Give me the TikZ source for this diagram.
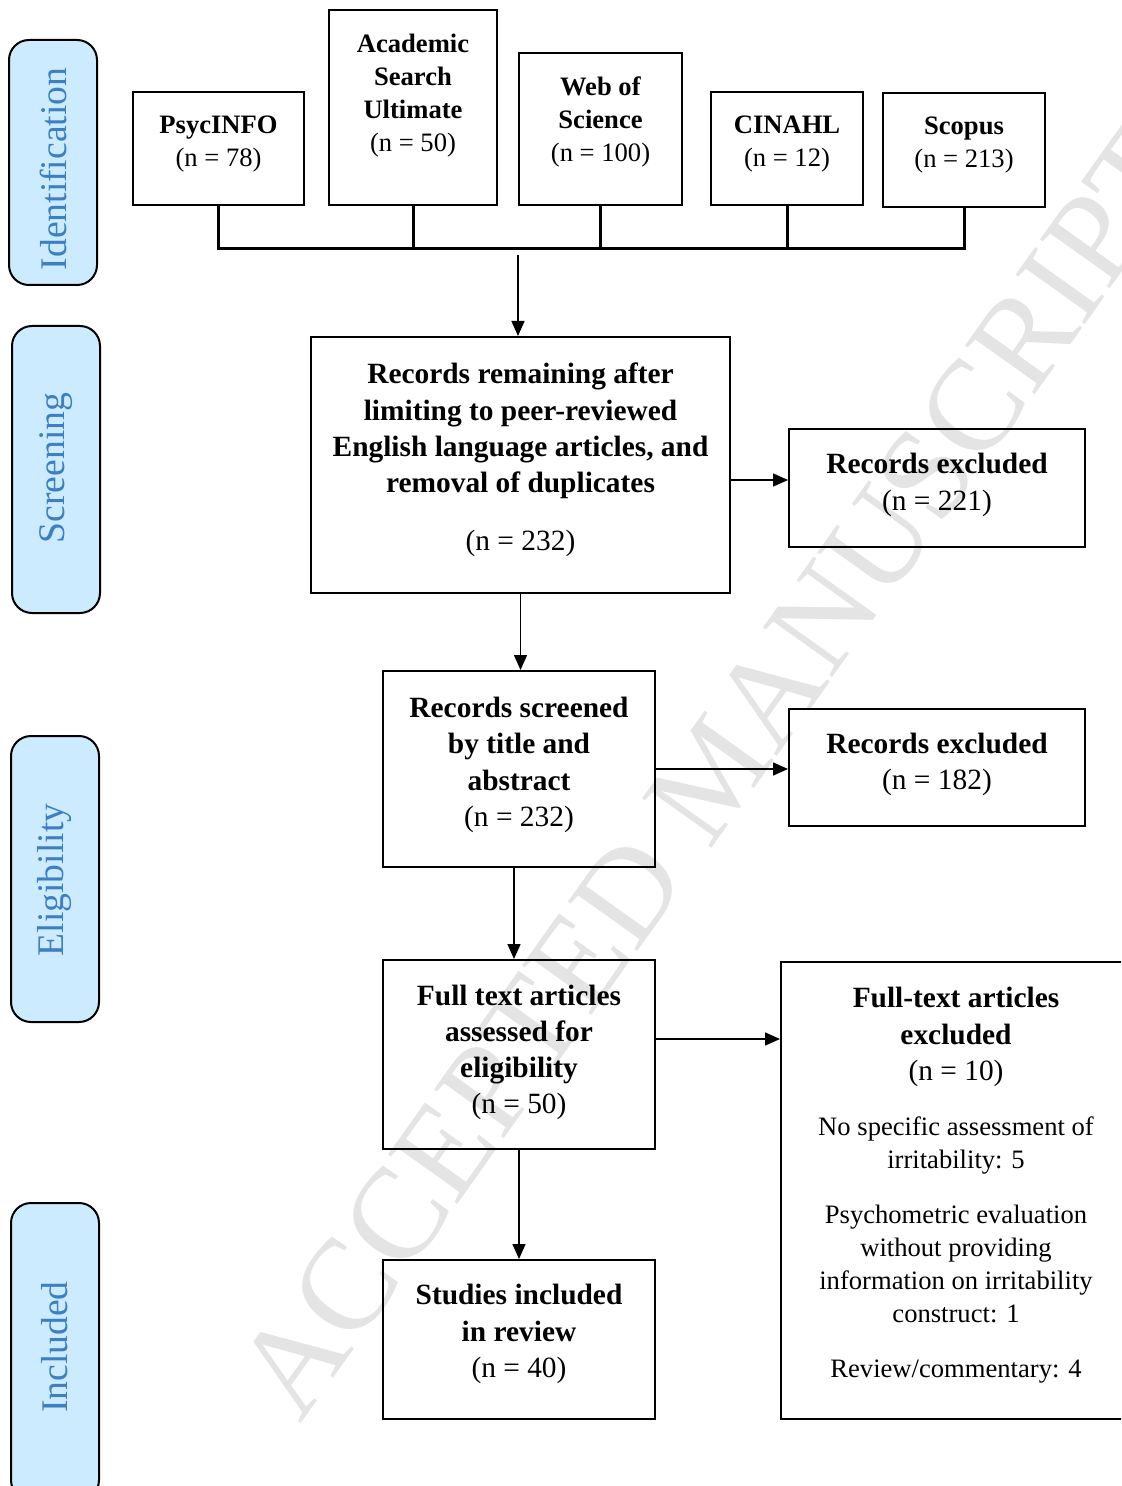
\documentclass[tikz,border=0pt]{standalone}
\usepackage{fontspec}
\setmainfont{Liberation Serif}
\usetikzlibrary{arrows.meta}
\definecolor{phasefill}{HTML}{CCEBFF}
\definecolor{phasetext}{HTML}{3C7FC2}
\definecolor{wmark}{HTML}{E4E4E4}
\begin{document}
\begin{tikzpicture}[x=0.5pt,y=-0.5pt,
  frame/.style={draw=black, line width=1pt, inner sep=0pt},
  txt/.style={align=center, inner sep=0pt, font=\fontsize{14.7}{18.1}\selectfont},
  srctxt/.style={align=center, inner sep=0pt, font=\fontsize{13.3}{16.5}\selectfont},
  detailtxt/.style={align=center, inner sep=0pt, font=\fontsize{13.3}{16.5}\selectfont},
  phase/.style={draw=black, line width=1pt, fill=phasefill, rounded corners=10pt, minimum width=44pt, inner sep=0pt},
  phasetxt/.style={rotate=90, text=phasetext, font=\fontsize{18.8}{20}\selectfont, inner sep=0pt},
  bus/.style={line width=1.5pt},
  arr/.style={line width=0.75pt, -{Triangle[length=7.5pt,width=6.5pt]}}
]
\useasboundingbox (0,0) rectangle (1121,1486);
\clip (0,0) rectangle (1121,1486);

% watermark
\node[rotate=54.5, anchor=base west, text=wmark, font=\fontsize{65}{65}\selectfont, inner sep=0pt] (wm) at (300,1425) {ACCEPTED MANUSCRIPT};

% phase labels
\node[phase, minimum height=122.5pt] (pid) at (53,162.5) {};
\node[phasetxt] (pidt) at (53,169) {Identification};
\node[phase, minimum height=143.5pt] (pscr) at (56,469.5) {};
\node[phasetxt] (pscrt) at (56,468) {Screening};
\node[phase, minimum height=143pt] (pel) at (55,879) {};
\node[phasetxt] (pelt) at (55,880) {Eligibility};
\node[phase, minimum height=148.5pt] (pin) at (55,1351.5) {};
\node[phasetxt] (pint) at (55,1347) {Included};

% sources
\node[frame, minimum width=85.5pt, minimum height=56.5pt] (psyc) at (218.5,148.5) {};
\node[srctxt] (psyct) at (218.5,144.5) {\textbf{PsycINFO}\\(n = 78)};
\node[frame, minimum width=84pt, minimum height=97.5pt] (asu) at (413,107.5) {};
\node[srctxt] (asut) at (413,96) {\textbf{Academic}\\\textbf{Search}\\\textbf{Ultimate}\\(n = 50)};
\node[frame, minimum width=81.5pt, minimum height=76pt] (wos) at (600.5,129) {};
\node[srctxt] (wost) at (600.5,122) {\textbf{Web of}\\\textbf{Science}\\(n = 100)};
\node[frame, minimum width=76pt, minimum height=56.5pt] (cin) at (787,148.5) {};
\node[srctxt] (cint) at (787,144.5) {\textbf{CINAHL}\\(n = 12)};
\node[frame, minimum width=81pt, minimum height=57pt] (sco) at (964,150) {};
\node[srctxt] (scot) at (964,145.5) {\textbf{Scopus}\\(n = 213)};

% bus
\coordinate (busy) at (0,249);
\draw[bus] (psyc.south) -- (psyc.south |- busy) -- (sco.south |- busy) -- (sco.south);
\foreach \n in {asu,wos,cin} \draw[bus] (\n.south) -- (\n.south |- busy);
\coordinate (merge) at (518,255);

% main flow
\node[frame, minimum width=209.5pt, minimum height=128pt] (screen) at (520.5,465) {};
\node[txt] (screent) at (520.5,460) {\textbf{Records remaining after}\\\textbf{limiting to peer-reviewed}\\\textbf{English language articles, and}\\\textbf{removal of duplicates}\\[11pt](n = 232)};

\node[frame, minimum width=148pt, minimum height=59pt] (ex1) at (937,488) {};
\node[txt] (ex1t) at (937,485) {\textbf{Records excluded}\\(n = 221)};

\node[frame, minimum width=136pt, minimum height=98pt] (screened) at (519,769) {};
\node[txt] (screenedt) at (519,765) {\textbf{Records screened}\\\textbf{by title and}\\\textbf{abstract}\\(n = 232)};

\node[frame, minimum width=148pt, minimum height=58.5pt] (ex2) at (937,767.5) {};
\node[txt] (ex2t) at (937,764.5) {\textbf{Records excluded}\\(n = 182)};

\node[frame, minimum width=136pt, minimum height=94.5pt] (full) at (519,1054.5) {};
\node[txt] (fullt) at (519,1052.5) {\textbf{Full text articles}\\\textbf{assessed for}\\\textbf{eligibility}\\(n = 50)};

\node[frame, minimum width=175pt, minimum height=228.5pt] (ex3) at (956,1190.5) {};
\node[txt] (ex3t) at (956,1037) {\textbf{Full-text articles}\\\textbf{excluded}\\(n = 10)};
\node[detailtxt] (ex3d) at (956,1249.5) {No specific assessment of\\irritability: 5\\[11pt]Psychometric evaluation\\without providing\\information on irritability\\construct: 1\\[11pt]Review/commentary: 4};

\node[frame, minimum width=136pt, minimum height=79.5pt] (incl) at (519,1339.5) {};
\node[txt] (inclt) at (519,1334) {\textbf{Studies included}\\\textbf{in review}\\(n = 40)};

% arrows
\draw[arr] (merge) -- (merge |- screen.north);
\path (ex1.west) ++(0,-8) coordinate (ex1in);
\draw[arr] (ex1in -| screen.east) -- (ex1in);
\draw[arr] (screen.south) -- (screen.south |- screened.north);
\draw[arr] (screened.east) -- (screened.east -| ex2.west);
\draw[arr] ([xshift=-2.5pt]screened.south) -- ([xshift=-2.5pt]full.north);
\path (full.east) ++(0,-15.5) coordinate (ftout);
\draw[arr] (ftout) -- (ftout -| ex3.west);
\draw[arr] (full.south) -- (incl.north);
\end{tikzpicture}
\end{document}
